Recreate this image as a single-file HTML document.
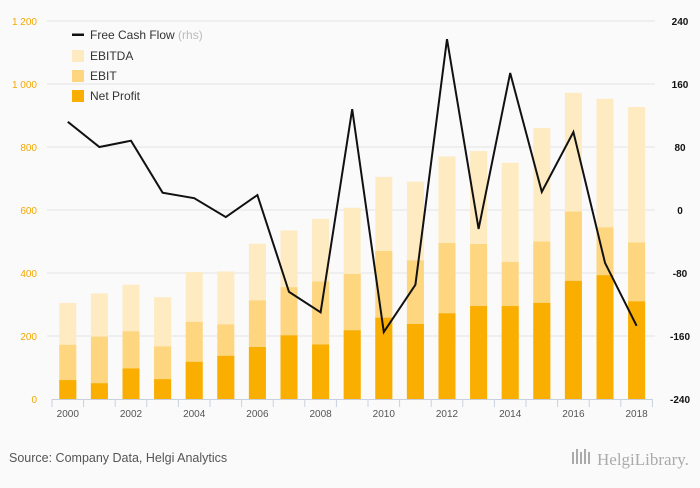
<!DOCTYPE html>
<html><head><meta charset="utf-8"><style>
body{margin:0;background:#fafafa;font-family:"Liberation Sans",sans-serif}
#wrap{position:relative;width:700px;height:483px;background:#fafafa}
</style></head><body>
<div id="wrap">
<svg id="chart" width="700" height="483"></svg>
</div>
<script>
const years=[2000,2001,2002,2003,2004,2005,2006,2007,2008,2009,2010,2011,2012,2013,2014,2015,2016,2017,2018];
const ebitda=[305,335,363,323,403,405,493,535,572,607,705,690,770,787,750,860,972,953,927];
const ebit=[172,198,215,167,245,237,313,355,373,397,470,440,495,492,435,500,595,545,497];
const netProfit=[60,50,97,63,118,137,165,202,173,218,258,238,272,295,295,305,375,393,310];
const fcf=[112,80,88,22,15,-9,19,-104,-130,128,-155,-95,217,-24,174,23,99,-67,-147];
const leftTicks=[0,200,400,600,800,1000,1200];
const leftTickLabels=["0","200","400","600","800","1 000","1 200"];
const rightTicks=[-240,-160,-80,0,80,160,240];

const NS="http://www.w3.org/2000/svg";
const svg=document.getElementById('chart');
const X0=52,STEP=31.6,BW=17,Y0=399,YT=21;
const xC=i=>X0+STEP*(i+0.5);
const yL=v=>Y0-(v/1200)*(Y0-YT);
const yR=v=>Y0-((v+240)/480)*(Y0-YT);
function mk(t,a){const e=document.createElementNS(NS,t);for(const k in a)e.setAttribute(k,a[k]);svg.appendChild(e);return e;}
function txt(x,y,s,a){const e=mk('text',Object.assign({x:x,y:y},a));e.textContent=s;return e;}

leftTicks.forEach((v,i)=>{
  if(v>0){const g=mk('line',{x1:47,x2:655,y1:yL(v),y2:yL(v),stroke:'#e4e4e4','stroke-width':1});
  }
  const t=txt(37,yL(v)+4,leftTickLabels[i],{'text-anchor':'end','font-size':10,fill:'#f4a800'});
  
});
rightTicks.forEach(v=>{
  const t=txt(680,yR(v)+4,String(v),{'text-anchor':'middle','font-size':10,fill:'#111','font-weight':'bold'});
  
});
years.forEach((y,i)=>{
  const x=xC(i)-BW/2;
  const a=mk('rect',{x:x,y:yL(ebitda[i]),width:BW,height:Y0-yL(ebitda[i]),fill:'#ffebc2'});
  
  const b=mk('rect',{x:x,y:yL(ebit[i]),width:BW,height:Y0-yL(ebit[i]),fill:'#fdd67f'});
  
  const c=mk('rect',{x:x,y:yL(netProfit[i]),width:BW,height:Y0-yL(netProfit[i]),fill:'#f9ae00'});
  
  if(i%2===0){const t=txt(xC(i),417,String(y),{'text-anchor':'middle','font-size':10,fill:'#555'});
  }
});
const ax=mk('line',{x1:X0,x2:X0+STEP*19,y1:Y0+0.5,y2:Y0+0.5,stroke:'#c8d0e0'});

for(let i=0;i<=19;i++){const t=mk('line',{x1:X0+STEP*i,x2:X0+STEP*i,y1:Y0,y2:Y0+8,stroke:'#c8d0e0'});
}
const pl=mk('polyline',{points:fcf.map((v,i)=>xC(i)+','+yR(v)).join(' '),fill:'none',stroke:'#111','stroke-width':2,'stroke-linejoin':'miter'});


const leg=[['line','Free Cash Flow',35],['#ffebc2','EBITDA',56],['#fdd67f','EBIT',76],['#f9ae00','Net Profit',96]];
leg.forEach(l=>{
  if(l[0]==='line'){const m=mk('rect',{x:72,y:l[2]-1.5,width:12,height:2.5,fill:'#111'});}
  else{const m=mk('rect',{x:72,y:l[2]-6,width:12,height:12,fill:l[0]});}
  const t=txt(90,l[2]+4,l[1],{'font-size':12,fill:'#333'});
  
  if(l[0]==='line'){const s=document.createElementNS(NS,'tspan');s.setAttribute('fill','#bbb');s.textContent=' (rhs)';t.appendChild(s);}
});
const src=txt(9,462,'Source: Company Data, Helgi Analytics',{'font-size':12.5,fill:'#555'});

const logo=txt(597,465,'HelgiLibrary.',{'font-size':17,fill:'#aaa','font-family':'Liberation Serif, serif'});

for(let k=0;k<5;k++){const r=mk('rect',{x:572+k*4,y:452-(k%2)*3,width:2,height:12+(k%2)*3,fill:'#aaa'});
}
</script>
</body></html>
